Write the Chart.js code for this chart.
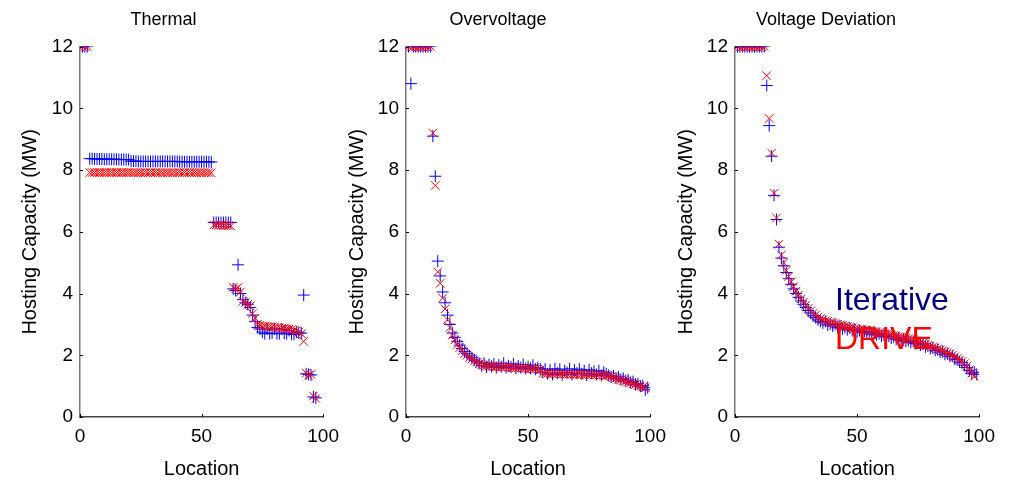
<!DOCTYPE html>
<html>
<head>
<meta charset="utf-8">
<script src="https://cdn.jsdelivr.net/npm/chart.js@4.4.1/dist/chart.umd.min.js"></script>
<style>
  body { margin: 0; background: #fff; width: 1014px; height: 484px; position: relative; overflow: hidden; }
  canvas { position: absolute; top: 0; }
</style>
</head>
<body>
<canvas id="thermal" width="347" height="484" style="left:0px"></canvas>
<canvas id="overvoltage" width="332" height="484" style="left:342px"></canvas>
<canvas id="deviation" width="334" height="484" style="left:669px"></canvas>
<script>
// series names
const seriesNames = ["Iterative", "DRIVE"];
const panelTitles = ["Thermal", "Overvoltage", "Voltage Deviation"];
const xTicks = [0, 50, 100];
const yTicks = [0, 2, 4, 6, 8, 10, 12];

// hosting capacity (MW) per location, Thermal
const thermalIter = [12, 12, 12,
  8.37, 8.37, 8.36, 8.36, 8.36, 8.36, 8.35, 8.35, 8.35, 8.35, 8.35, 8.35, 8.34, 8.34, 8.34, 8.34, 8.34,
  8.29, 8.29, 8.29, 8.28, 8.28, 8.28, 8.28, 8.28, 8.28, 8.28, 8.28, 8.28, 8.28, 8.28, 8.28, 8.28, 8.28,
  8.28, 8.28, 8.28, 8.27, 8.27, 8.27, 8.27, 8.27, 8.27, 8.27, 8.27, 8.27, 8.27, 8.27, 8.27, 8.27, 8.26,
  6.3, 6.3, 6.3, 6.3, 6.3, 6.3, 6.3, 6.3,
  4.15, 4.1, 4.93, 4.0, 3.8, 3.7, 3.65, 3.55, 3.3, 3.1, 2.9,
  2.85, 2.75, 2.7, 2.85, 2.7, 2.72, 2.85, 2.7, 2.7, 2.85, 2.72, 2.7, 2.8, 2.68, 2.68, 2.75,
  2.72, 2.72, 3.95, 1.4, 1.38, 1.36, 0.65, 0.62];
const thermalDrive = [12, 12, 12,
  7.92, 7.92, 7.92, 7.92, 7.92, 7.92, 7.92, 7.92, 7.92, 7.92, 7.92, 7.92, 7.92, 7.92, 7.92, 7.92, 7.92,
  7.92, 7.91, 7.92, 7.91, 7.92, 7.91, 7.92, 7.91, 7.92, 7.91, 7.92, 7.91, 7.92, 7.91, 7.92, 7.91, 7.92,
  7.91, 7.92, 7.91, 7.92, 7.91, 7.92, 7.91, 7.92, 7.91, 7.92, 7.91, 7.92, 7.91, 7.92, 7.91, 7.92, 7.91,
  6.22, 6.22, 6.21, 6.21, 6.2, 6.2, 6.2, 6.19,
  4.2, 4.15, 4.2, 4.05, 3.75, 3.7, 3.65, 3.6, 3.35, 3.2, 3.0,
  2.97, 2.95, 2.95, 2.93, 2.93, 2.92, 2.92, 2.9, 2.9, 2.88, 2.88, 2.86, 2.85, 2.83, 2.82, 2.8,
  2.75, 2.7, 2.45, 1.42, 1.35, 1.38, 0.68, 0.6];

// Overvoltage
const overIter = [12, 10.8, 12, 12, 12, 12, 12, 12, 12, 12,
  9.1, 7.8, 5.05, 4.57, 4.05, 3.7, 3.3, 3.0, 2.72, 2.58, 2.45, 2.33, 2.22, 2.12, 2.05, 1.98, 1.92, 1.85, 1.8, 1.74,
  1.66, 1.74, 1.62, 1.7, 1.64, 1.72, 1.6, 1.68, 1.63, 1.74, 1.6, 1.66, 1.62, 1.72, 1.58, 1.65, 1.6, 1.7, 1.57, 1.63,
  1.58, 1.68, 1.55, 1.6, 1.56,
  1.45, 1.55, 1.4, 1.52, 1.38, 1.56, 1.42, 1.55, 1.37, 1.5, 1.44, 1.56, 1.38, 1.52, 1.42, 1.55, 1.4, 1.5, 1.36, 1.53,
  1.42, 1.48, 1.38, 1.5, 1.35, 1.45, 1.4,
  1.35, 1.3, 1.33, 1.26, 1.3, 1.22, 1.25, 1.18, 1.2, 1.12, 1.15, 1.06, 1.08, 1.0, 1.02, 0.88, 0.95];
const overDrive = [12, 12, 12, 12, 12, 12, 12, 12, 12, 12,
  9.2, 7.5, 4.7, 4.33, 3.85, 3.5, 3.15, 2.9, 2.65, 2.5, 2.35, 2.25, 2.15, 2.05, 2.0, 1.92, 1.88, 1.82, 1.78, 1.72,
  1.7, 1.68, 1.66, 1.65, 1.64, 1.64, 1.63, 1.63, 1.62, 1.62, 1.61, 1.61, 1.6, 1.6, 1.59, 1.59, 1.58, 1.58, 1.57, 1.57,
  1.56, 1.56, 1.55, 1.55, 1.53,
  1.42, 1.41, 1.41, 1.4, 1.4, 1.4, 1.4, 1.39, 1.39, 1.39, 1.39, 1.39, 1.38, 1.38, 1.38, 1.38, 1.38, 1.37, 1.37, 1.37,
  1.37, 1.36, 1.36, 1.36, 1.35, 1.35, 1.34,
  1.33, 1.3, 1.28, 1.25, 1.22, 1.2, 1.18, 1.15, 1.12, 1.1, 1.07, 1.05, 1.02, 1.0, 0.97, 0.95, null];

// Voltage Deviation
const devIter = [12, 12, 12, 12, 12, 12, 12, 12, 12, 12, 12, 12,
  10.74, 9.44, 8.45, 7.18, 6.4, 5.5, 5.15, 4.9, 4.68, 4.48, 4.3, 4.15, 4.0, 3.88, 3.76, 3.65, 3.55, 3.45, 3.37, 3.28,
  3.22, 3.15, 3.1,
  3.05, 3.1, 2.98, 3.02, 2.95, 3.0, 2.9, 2.95, 2.86, 2.9, 2.83, 2.88, 2.8, 2.84, 2.76, 2.8, 2.74, 2.78, 2.72, 2.76,
  2.68, 2.74, 2.66, 2.7, 2.62, 2.66, 2.6, 2.62, 2.56, 2.6, 2.52, 2.56, 2.48, 2.52, 2.46, 2.48, 2.42, 2.45, 2.38, 2.4,
  2.33, 2.36, 2.27, 2.3, 2.22, 2.24, 2.16, 2.18, 2.1, 2.12, 2.03, 2.05, 1.97, 1.98, 1.88, 1.86, 1.78, 1.76, 1.68, 1.6,
  1.5, 1.4, 1.45, 1.38];
const devDrive = [12, 12, 12, 12, 12, 12, 12, 12, 12, 12, 12, 12,
  11.06, 9.67, 8.55, 7.25, 6.45, 5.6, 5.25, 5.0, 4.75, 4.55, 4.38, 4.22, 4.08, 3.95, 3.83, 3.72, 3.62, 3.52, 3.44, 3.36,
  3.3, 3.24, 3.19,
  3.15, 3.12, 3.1, 3.07, 3.05, 3.03, 3.0, 2.98, 2.97, 2.95, 2.93, 2.91, 2.89, 2.87, 2.85, 2.84, 2.83, 2.82, 2.81, 2.8,
  2.78, 2.77, 2.76, 2.74, 2.72, 2.7, 2.68, 2.67, 2.65, 2.64, 2.62, 2.6, 2.58, 2.57, 2.55, 2.53, 2.51, 2.5, 2.47, 2.45,
  2.42, 2.39, 2.36, 2.33, 2.3, 2.27, 2.24, 2.21, 2.18, 2.15, 2.11, 2.08, 2.04, 2.0, 1.95, 1.9, 1.85, 1.8, 1.73, 1.65,
  1.53, 1.42, 1.32, null];

const FONT = "'Liberation Sans', Arial, sans-serif";

//turn a list of values into scatter points, location = position in list
const toPoints = (vals) => vals.map((v, i) => ({ x: i + 1, y: v }));

//small inward tick marks like the original axes
const innerTicks = {
  id: "innerTicks",
  afterDraw(chart) {
    const { ctx, chartArea, scales } = chart;
    ctx.save();
    ctx.strokeStyle = "#000";
    ctx.lineWidth = 1;
    ctx.beginPath();
    scales.x.ticks.forEach((t) => {
      const px = Math.round(scales.x.getPixelForValue(t.value)) + 0.5;
      ctx.moveTo(px, chartArea.bottom);
      ctx.lineTo(px, chartArea.bottom - 3);
    });
    scales.y.ticks.forEach((t) => {
      const py = Math.round(scales.y.getPixelForValue(t.value)) + 0.5;
      ctx.moveTo(chartArea.left, py);
      ctx.lineTo(chartArea.left + 3, py);
    });
    ctx.stroke();
    ctx.restore();
  },
};

//legend drawn as plain coloured words inside the last panel
const textLegend = {
  id: "textLegend",
  afterDraw(chart, args, opts) {
    if (!opts.show) return;
    const { ctx, chartArea } = chart;
    ctx.save();
    ctx.font = "32px " + FONT;
    ctx.textBaseline = "alphabetic";
    ctx.textAlign = "left";
    ctx.fillStyle = "#000080";
    ctx.fillText(seriesNames[0], chartArea.left + 100, chartArea.top + 263);
    ctx.fillStyle = "#ff0000";
    ctx.fillText(seriesNames[1], chartArea.left + 100, chartArea.top + 302);
    ctx.restore();
  },
};

function makePanel(id, title, iterVals, driveVals, yWidth, yTitlePad, legend) {
  return new Chart(document.getElementById(id), {
    type: "scatter",
    plugins: [innerTicks, textLegend],
    data: {
      datasets: [
        {
          label: seriesNames[0],
          data: toPoints(iterVals),
          pointStyle: "cross",
          pointRadius: 6,
          borderColor: "#0000ff",
          backgroundColor: "#0000ff",
          pointBorderWidth: 1,
          order: 2,
        },
        {
          label: seriesNames[1],
          data: toPoints(driveVals),
          pointStyle: "crossRot",
          pointRadius: 6,
          borderColor: "#ff0000",
          backgroundColor: "#ff0000",
          pointBorderWidth: 1,
          order: 1,
        },
      ],
    },
    options: {
      responsive: false,
      animation: false,
      layout: { padding: { right: 20 } },
      plugins: {
        legend: { display: false },
        tooltip: { enabled: false },
        title: {
          display: true,
          text: title,
          color: "#000",
          font: { family: FONT, size: 18, weight: "normal" },
          padding: { top: 9, bottom: 16 },
        },
        textLegend: { show: legend },
      },
      scales: {
        x: {
          type: "linear",
          min: 0,
          max: 100,
          afterBuildTicks: (s) => { s.ticks = xTicks.map((v) => ({ value: v })); },
          afterFit: (s) => { s.height = 67; },
          grid: { display: false, drawTicks: false },
          border: { color: "#444", width: 1.5 },
          ticks: { color: "#000", padding: 8, font: { family: FONT, size: 19 } },
          title: {
            display: true,
            text: "Location",
            color: "#000",
            font: { family: FONT, size: 20 },
            padding: { top: 0, bottom: 3 },
          },
        },
        y: {
          min: 0,
          max: 12,
          afterBuildTicks: (s) => { s.ticks = yTicks.map((v) => ({ value: v })); },
          afterFit: (s) => { s.width = yWidth; },
          grid: { display: false, drawTicks: false },
          border: { color: "#777", width: 1.5 },
          ticks: { color: "#000", padding: 7, font: { family: FONT, size: 19 } },
          title: {
            display: true,
            text: "Hosting Capacity (MW)",
            color: "#000",
            font: { family: FONT, size: 20 },
            padding: { top: yTitlePad, bottom: 0 },
          },
        },
      },
    },
  });
}

makePanel("thermal", panelTitles[0], thermalIter, thermalDrive, 80, 18, false);
makePanel("overvoltage", panelTitles[1], overIter, overDrive, 64, 3, false);
makePanel("deviation", panelTitles[2], devIter, devDrive, 66, 5, true);
</script>
</body>
</html>
